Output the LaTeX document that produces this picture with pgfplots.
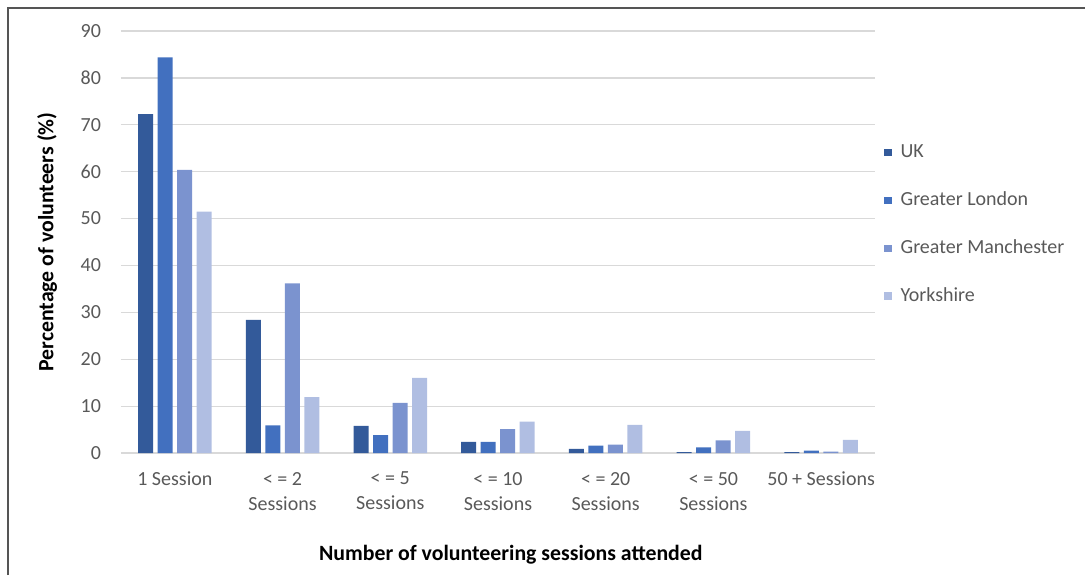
\documentclass[border=0pt]{standalone}
\usepackage{fontspec}
\setmainfont{Carlito}
\usepackage{pgfplots}
\pgfplotsset{compat=1.18}
\definecolor{ukc}{HTML}{335A9A}
\definecolor{lonc}{HTML}{4270BF}
\definecolor{manc}{HTML}{7B93CF}
\definecolor{yorc}{HTML}{B0BEE2}
\definecolor{txt}{HTML}{595959}
\definecolor{gridc}{HTML}{D9D9D9}
\definecolor{framec}{HTML}{555555}
\begin{document}
\begin{tikzpicture}
% page size and the outer frame of the figure
\path[use as bounding box] (-60.5pt,-61pt) rectangle (482pt,226.5pt);
\draw[line width=1pt, framec] (-56.5pt,-61pt) -- (-56.5pt,222.75pt) -- (482pt,222.75pt);
\begin{axis}[
    scale only axis,
    width=377pt, height=211pt,
    ybar=2.25pt, bar width=7.5pt,
    xmin=-0.5, xmax=6.5, ymin=0, ymax=90,
    enlargelimits=false,
    axis line style={draw=none},
    major tick length=0pt,
    ymajorgrids, grid style={gridc, line width=0.6pt},
    ytick={0,10,...,90},
    xtick={0,...,6},
    xticklabels={1 Session, {< = 2\\Sessions}, {< = 5\\Sessions}, {< = 10\\Sessions},
                 {< = 20\\Sessions}, {< = 50\\Sessions}, 50 + Sessions},
    xticklabel style={align=center, font=\fontsize{10}{12.5}\selectfont, text=txt, yshift=-6pt},
    yticklabel style={font=\fontsize{10}{12}\selectfont, text=txt, xshift=-6.5pt},
    /pgf/number format/assume math mode=true,
    xlabel={\textbf{Number of volunteering sessions attended}},
    ylabel={\textbf{Percentage of volunteers (\%)}},
    xlabel style={at={(axis description cs:0.517,-0.242)}, anchor=center, font=\fontsize{10.9}{13}\selectfont},
    ylabel style={at={(axis description cs:-0.098,0.5)}, anchor=center, font=\fontsize{10.9}{13}\selectfont},
    legend style={draw=none, fill=none, at={(axis description cs:1.012,0.541)}, anchor=west,
        font=\fontsize{10}{12}\selectfont, text=txt, inner sep=0pt, row sep=11.5pt,
        /tikz/every odd column/.append style={column sep=2.5pt}},
    legend cell align=left,
    legend image code/.code={\fill[#1] (0pt,-1.8pt) rectangle (3.6pt,1.8pt);},
]
\addplot[fill=ukc, draw=none] coordinates {(0,72.3) (1,28.4) (2,5.8) (3,2.4) (4,0.9) (5,0.2) (6,0.2)};
\addplot[fill=lonc, draw=none] coordinates {(0,84.4) (1,5.9) (2,3.8) (3,2.4) (4,1.6) (5,1.2) (6,0.5)};
\addplot[fill=manc, draw=none] coordinates {(0,60.4) (1,36.2) (2,10.7) (3,5.1) (4,1.8) (5,2.7) (6,0.3)};
\addplot[fill=yorc, draw=none] coordinates {(0,51.5) (1,11.9) (2,16.0) (3,6.7) (4,6.0) (5,4.7) (6,2.8)};
\legend{UK, Greater London, Greater Manchester, Yorkshire}
\end{axis}
\end{tikzpicture}
\end{document}
